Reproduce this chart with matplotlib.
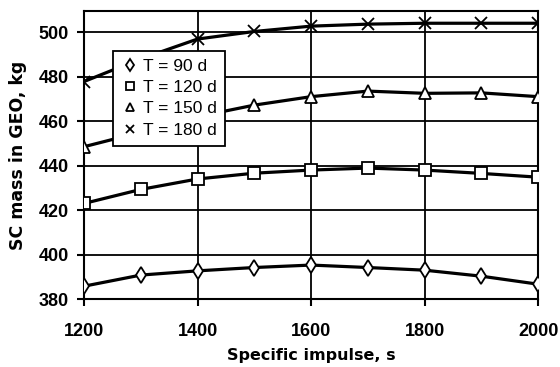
import matplotlib
matplotlib.use("Agg")
import matplotlib.pyplot as plt

plt.rcParams['font.family'] = ['Liberation Sans', 'DejaVu Sans']

# 比推力 (s)
isp = [1200, 1300, 1400, 1500, 1600, 1700, 1800, 1900, 2000]

# GEO での SC 質量 (kg)
mass_90 = [385.8, 390.8, 392.7, 394.2, 395.3, 394.2, 393.0, 390.3, 386.7]
mass_120 = [423.0, 429.3, 434.0, 436.6, 438.0, 438.9, 438.0, 436.5, 434.8]
mass_150 = [448.5, 455.0, 462.0, 467.2, 471.0, 473.5, 472.5, 472.7, 471.0]
mass_180 = [477.8, 488.0, 496.9, 500.3, 502.7, 503.6, 504.0, 504.0, 504.0]

labels = ['T = 90 d', 'T = 120 d', 'T = 150 d', 'T = 180 d']
markers = ['d', 's', '^', 'x']

fig = plt.figure(figsize=(5.6, 3.67), dpi=100)
ax = fig.add_axes([0.15, 0.185, 0.811, 0.785])

# 曲線を描画
for y, lab, m in zip([mass_90, mass_120, mass_150, mass_180], labels, markers):
    ax.plot(isp, y, color='black', linewidth=2.3, zorder=3)
    ax.plot(isp, y, linestyle='none', marker=m, markersize=8,
            markerfacecolor='white', markeredgecolor='black',
            markeredgewidth=1.3, zorder=4, label=lab)

ax.set_xlim(1200, 2000)
ax.set_ylim(380, 509.5)
ax.set_xticks([1200, 1400, 1600, 1800, 2000])
ax.set_yticks([380, 400, 420, 440, 460, 480, 500])
ax.grid(True, color='black', linewidth=1.3)

for s in ax.spines.values():
    s.set_linewidth(1.5)

ax.tick_params(direction='out', length=5, width=1.5, labelsize=13)
ax.tick_params(axis='x', pad=12)
ax.tick_params(axis='y', pad=6)
for t in ax.get_xticklabels() + ax.get_yticklabels():
    t.set_fontweight('bold')

ax.set_xlabel('Specific impulse, s', fontsize=11.5, fontweight='bold',
              family='DejaVu Sans', labelpad=6)
ax.set_ylabel('SC mass in GEO, kg', fontsize=12.5, fontweight='bold',
              family='DejaVu Sans', labelpad=8)

leg = ax.legend(loc='upper left', bbox_to_anchor=(0.064, 0.861), fontsize=12.5,
                frameon=True, fancybox=False, framealpha=1, edgecolor='black',
                handletextpad=0.3, handlelength=1.0, borderpad=0.45,
                labelspacing=0.35, borderaxespad=0, markerscale=0.8)
leg.get_frame().set_linewidth(1.3)
leg.set_zorder(10)

fig.savefig('out.png', dpi=100)
